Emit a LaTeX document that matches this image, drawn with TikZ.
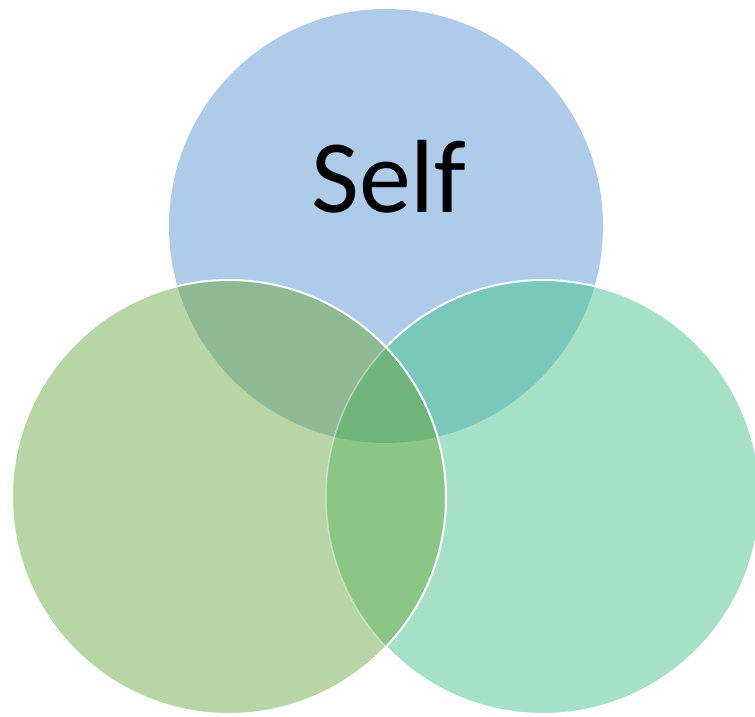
\documentclass[tikz,border=0pt]{standalone}
\usepackage{fontspec}
\setmainfont{Carlito}
\definecolor{cT}{HTML}{AECBE9}
\definecolor{cL}{HTML}{B8D5A5}
\definecolor{cR}{HTML}{A6E1C7}
\definecolor{cTL}{HTML}{8EB993}
\definecolor{cTR}{HTML}{7AC7BB}
\definecolor{cLR}{HTML}{8CC686}
\definecolor{cTLR}{HTML}{6FB57A}
\tikzset{
  rim/.style={draw=white, line width=2pt},
  faintrim/.style={draw=white, draw opacity=0.4, line width=1.5pt},
  label/.style={font=\fontsize{104}{110}\selectfont, text=black, inner sep=0pt, anchor=base}
}
\begin{document}
\begin{tikzpicture}[x=1pt,y=-1pt]
\useasboundingbox (0,0) rectangle (755,717);
\clip (0,0) rectangle (755,717);
\def\rr{217}
\coordinate (T) at (386,226);
\coordinate (L) at (229,497);
\coordinate (R) at (543,497);
% top and right circles
\fill[cT] (T) circle[radius=\rr];
\fill[cR] (R) circle[radius=\rr];
\begin{scope}
  \clip (T) circle[radius=\rr];
  \fill[cTR] (R) circle[radius=\rr];
\end{scope}
\path[rim] (R) circle[radius=\rr];
% left circle regions
\fill[cL] (L) circle[radius=\rr];
\begin{scope}
  \clip (L) circle[radius=\rr];
  \fill[cTL] (T) circle[radius=\rr];
\end{scope}
\begin{scope}
  \clip (L) circle[radius=\rr];
  \fill[cLR] (R) circle[radius=\rr];
  \clip (T) circle[radius=\rr];
  \fill[cTLR] (R) circle[radius=\rr];
\end{scope}
\begin{scope}
  \clip (L) circle[radius=\rr];
  \path[faintrim] (R) circle[radius=\rr];
\end{scope}
\path[rim] (L) circle[radius=\rr];
\node[label] (self) at (389,212) {Self};
\end{tikzpicture}
\end{document}
